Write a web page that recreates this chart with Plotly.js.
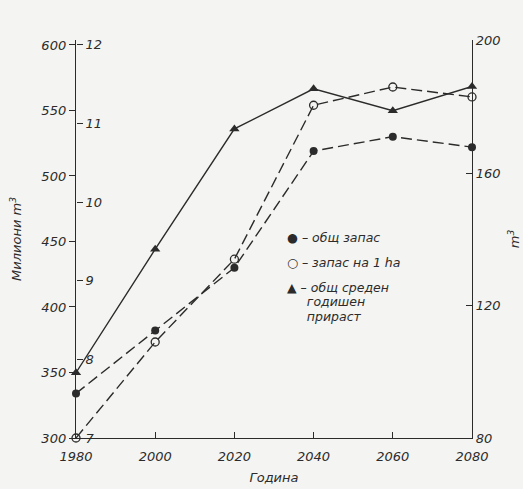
<!DOCTYPE html>
<html>
<head>
<meta charset="utf-8">
<script src="https://cdn.plot.ly/plotly-3.0.1.min.js"></script>
<style>html,body{margin:0;padding:0;background:#f4f4f2;}#chart{width:523px;height:489px;}</style>
</head>
<body>
<div id="chart"></div>
<script>
// Data
const years = [1980, 2000, 2020, 2040, 2060, 2080];
const totalStock = [334, 382, 430, 519, 530, 522];          // общ запас, million m3 (left 300-600)
const stockPerHa = [80, 109, 134, 180.5, 186, 183];         // запас на 1 ha, m3 (right 80-200)
const meanIncrement = [7.83, 9.40, 10.93, 11.44, 11.16, 11.47]; // общ среден годишен прираст (inner 7-12)

const leftTicks = [300, 350, 400, 450, 500, 550, 600];
const innerTicks = [7, 8, 9, 10, 11, 12];
const rightTicks = [80, 120, 160, 200];
const xTicks = [1980, 2000, 2020, 2040, 2060, 2080];

const legendLabels = ['● – общ запас', '○ – запас на 1 ha', '▲ – общ среден', '     годишен', '     прираст'];

const ink = '#2b2b2b';
const fnt = {family: 'DejaVu Sans, sans-serif', size: 13, color: ink, style: 'italic'};

const traces = [
  {x: years, y: totalStock, yaxis: 'y', mode: 'lines+markers', cliponaxis: false,
   line: {color: ink, width: 1.4, dash: '11px,5px'},
   marker: {symbol: 'circle', size: 8, color: ink}},
  {x: years, y: stockPerHa, yaxis: 'y2', mode: 'lines+markers', cliponaxis: false,
   line: {color: ink, width: 1.4, dash: '11px,5px'},
   marker: {symbol: 'circle-open', size: 8, color: ink, line: {width: 1.3, color: ink}}},
  {x: years, y: meanIncrement, yaxis: 'y3', mode: 'lines+markers', cliponaxis: false,
   line: {color: ink, width: 1.4},
   marker: {symbol: 'triangle-up', size: 9, color: ink}}
];

const legendY = [237, 262, 287, 301, 316];
const annotations = legendLabels.map((t, i) => ({
  text: t, xref: 'paper', yref: 'paper', xanchor: 'left', yanchor: 'middle',
  x: (285 - 76) / 396, y: (438 - legendY[i]) / 398, showarrow: false,
  font: {family: 'DejaVu Sans, sans-serif', size: 12.5, color: ink, style: 'italic'}
}));

const layout = {
  width: 523, height: 489,
  margin: {l: 76, r: 51, t: 40, b: 51},
  paper_bgcolor: '#f4f4f2', plot_bgcolor: '#f4f4f2',
  showlegend: false,
  font: fnt,
  xaxis: {range: [1980, 2080], tickvals: xTicks, ticks: 'inside', ticklen: 6, tickcolor: ink,
          showline: true, linecolor: ink, linewidth: 1.2, showgrid: false, zeroline: false,
          ticklabelstandoff: 6,
          tickfont: fnt, title: {text: 'Година', font: fnt, standoff: 10}},
  yaxis: {range: [300, 603.8], tickvals: leftTicks, ticks: 'outside', ticklen: 6, tickcolor: ink,
          showline: true, linecolor: ink, linewidth: 1.2, showgrid: false, zeroline: false,
          tickfont: fnt, title: {text: 'Милиони m<sup>3</sup>', font: fnt, standoff: 16}},
  yaxis2: {overlaying: 'y', side: 'right', range: [80, 200.2], tickvals: rightTicks,
           ticks: 'inside', ticklen: 6, tickcolor: ink, showline: true, linecolor: ink, linewidth: 1.2,
           showgrid: false, zeroline: false, tickfont: fnt,
           title: {text: 'm<sup>3</sup>', font: fnt, standoff: 10}},
  yaxis3: {overlaying: 'y', anchor: 'free', position: 0, side: 'right', range: [7, 12.06],
           tickvals: innerTicks, ticks: 'outside', ticklen: 6, tickcolor: ink, showline: false,
           showgrid: false, zeroline: false, tickfont: fnt},
  annotations: annotations
};

Plotly.newPlot('chart', traces, layout, {displayModeBar: false, staticPlot: true});
</script>
</body>
</html>
